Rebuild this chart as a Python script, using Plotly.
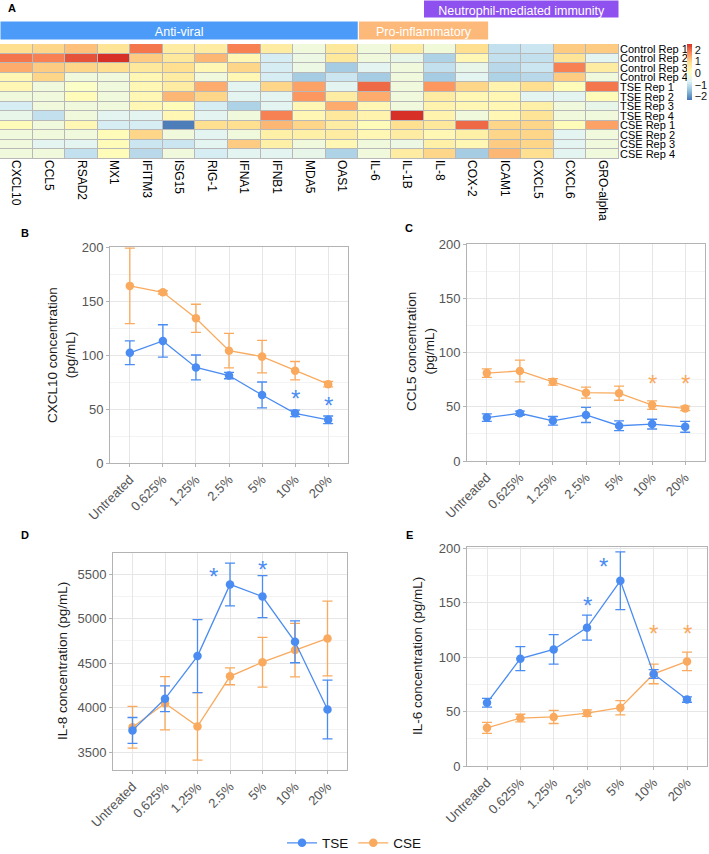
import plotly.graph_objects as go

# ---------------- Heatmap data (panel A) ----------------
genes = ["CXCL10", "CCL5", "RSAD2", "MX1", "IFITM3", "ISG15", "RIG-1", "IFNA1", "IFNB1",
         "MDA5", "OAS1", "IL-6", "IL-1B", "IL-8", "COX-2", "ICAM1", "CXCL5", "CXCL6", "GRO-alpha"]
samples = ["Control Rep 1", "Control Rep 2", "Control Rep 3", "Control Rep 4",
           "TSE Rep 1", "TSE Rep 2", "TSE Rep 3", "TSE Rep 4",
           "CSE Rep 1", "CSE Rep 2", "CSE Rep 3", "CSE Rep 4"]
ctrl_rep1 = [0.9, 1.0, 1.2, 0.8, 1.9, 0.6, 0.6, 1.8, 0.6, -0.3, 0.7, -0.3, 0.6, -0.25, 0.9, -1.0, -0.9, 1.1, 1.1]
ctrl_rep2 = [1.9, 1.8, 2.2, 2.5, 1.1, 0.7, 1.3, 0.3, -0.8, -0.4, 0.7, -0.3, -0.5, -1.2, 0.3, -1.0, -1.0, 0.8, -0.6]
ctrl_rep3 = [1.4, 1.1, 1.0, 0.9, 0.7, 0.9, 0.3, 1.0, -0.8, -0.4, -1.3, -0.6, -0.3, -1.0, -0.5, -1.1, -0.9, 1.8, 0.6]
ctrl_rep4 = [0.3, 1.0, -0.3, -0.3, 0.3, 0.6, -0.3, 0.3, -0.8, -1.3, -0.9, -1.3, -0.3, -1.3, -0.6, -1.2, -1.1, 1.1, -0.3]
tse_rep1 = [0.3, -0.3, 0.0, -0.3, 0.3, 0.6, 1.4, -0.6, 1.0, 1.5, -0.6, 2.0, -0.3, 1.6, 1.0, 0.4, 0.9, 0.2, 1.9]
tse_rep2 = [-0.3, -0.3, 0.2, -0.3, 0.3, 1.3, 1.0, -0.6, -0.6, 1.6, 0.6, 1.4, -0.3, 0.6, 0.3, 0.3, -0.6, -0.6, 0.2]
tse_rep3 = [-0.8, -0.3, -0.3, -0.3, 0.3, 0.2, -0.8, -1.2, -0.6, 0.3, 1.4, 0.3, -0.3, 0.4, 0.3, 0.3, 0.5, -0.3, -0.5]
tse_rep4 = [-0.5, -1.0, -0.3, -0.6, -0.6, 0.3, -0.6, -0.3, 1.8, 0.3, 0.7, 0.4, 2.5, 0.4, -0.3, 0.3, 0.8, -0.3, -0.3]
cse_rep1 = [0.2, -0.3, 0.3, -0.8, -0.8, -2.2, 0.9, 0.9, 1.3, 1.0, 0.6, 0.2, 0.9, 0.7, 2.0, 1.0, 1.0, 0.2, 1.5]
cse_rep2 = [-0.3, -0.3, -0.3, 0.2, 1.0, -0.3, -0.6, -0.3, 0.5, 0.5, 0.6, 0.3, 0.6, 0.3, 0.5, 1.0, 1.0, -0.6, -0.3]
cse_rep3 = [-0.3, -0.6, -0.6, 0.2, -0.9, -0.9, -0.6, 1.1, 0.5, -0.3, 0.3, -0.3, -0.4, 0.5, 0.3, 1.1, 1.0, -0.6, -0.3]
cse_rep4 = [-0.3, -0.3, -1.0, 0.2, -1.1, -0.3, -0.8, -0.6, -0.6, -0.5, -1.2, -0.3, 0.6, 1.0, -1.3, 1.3, 0.9, -0.6, -0.3]
heat_rows = [ctrl_rep1, ctrl_rep2, ctrl_rep3, ctrl_rep4, tse_rep1, tse_rep2, tse_rep3, tse_rep4,
             cse_rep1, cse_rep2, cse_rep3, cse_rep4]
colorbar_ticks = [-2, -1, 0, 1, 2]

group_names = ["Anti-viral", "Pro-inflammatory", "Neutrophil-mediated immunity"]
group_first = ["CXCL10", "IL-6", "IL-8"]
group_last = ["OAS1", "COX-2", "GRO-alpha"]

# ---------------- Line panel data (B-E) ----------------
doses = ["Untreated", "0.625%", "1.25%", "2.5%", "5%", "10%", "20%"]
series_names = ["TSE", "CSE"]

cxcl10_tse = [102, 113, 88.5, 81, 63, 46, 40]
cxcl10_tse_se = [11, 15, 11.5, 3, 12, 3, 3.5]
cxcl10_cse = [164, 158, 134, 104, 98.5, 85.5, 73]
cxcl10_cse_se = [35, 1.5, 13, 16, 15, 8.5, 2.5]
cxcl10_star_x = [5, 6]
cxcl10_star_y = [64, 58]
cxcl10_star_s = ["TSE", "TSE"]

ccl5_tse = [40, 44, 37, 42.5, 32.5, 34, 31.5]
ccl5_tse_se = [3.5, 2, 4, 7, 4.5, 4.5, 5]
ccl5_cse = [81, 83, 73, 63, 62.5, 51.5, 48.5]
ccl5_cse_se = [4, 10, 3, 5, 6.5, 4, 2]
ccl5_star_x = [5, 6]
ccl5_star_y = [76, 76]
ccl5_star_s = ["CSE", "CSE"]

il8_tse = [3745, 4100, 4580, 5385, 5248, 4740, 3980]
il8_tse_se = [145, 145, 410, 240, 235, 235, 330]
il8_cse = [3780, 4050, 3790, 4353, 4511, 4647, 4778]
il8_cse_se = [235, 300, 380, 95, 280, 300, 420]
il8_star_x = [2.5, 4]
il8_star_y = [5526, 5609]
il8_star_s = ["TSE", "TSE"]

il6_tse = [58, 98.5, 107, 127, 170, 84.5, 61]
il6_tse_se = [4, 11, 13.5, 11.5, 26.5, 4, 2.5]
il6_cse = [35, 44, 45, 48.5, 53.5, 84.5, 96]
il6_cse_se = [5, 3.5, 6, 3, 6.5, 9, 8.5]
il6_star_x = [3, 3.5, 5, 6]
il6_star_y = [152, 188, 126, 126]
il6_star_s = ["TSE", "TSE", "CSE", "CSE"]

ticks_0_200 = [0, 50, 100, 150, 200]
ticks_il8 = [3500, 4000, 4500, 5000, 5500]

# ---------------- Styling ----------------
W, H = 709, 854
FONT = "Liberation Sans, Arial, Helvetica, sans-serif"
COL = {"TSE": "#4A8CF2", "CSE": "#F9AA5E"}
BAND_COLORS = ["#4C9BF8", "#FDB97A", "#8E50EF"]
HEAT_SCALE = [[0.0, "#4575B4"], [1/6, "#91BFDB"], [2/6, "#E0F3F8"], [3/6, "#FFFFBF"],
              [4/6, "#FEE090"], [5/6, "#FC8D59"], [1.0, "#D73027"]]


def px(x):
    return x / W


def py(y):
    return 1 - y / H


fig = go.Figure()

# Heatmap
fig.add_trace(go.Heatmap(
    z=heat_rows, x=genes, y=samples, xaxis="x", yaxis="y",
    colorscale=HEAT_SCALE, zmin=-2.3, zmax=2.5, xgap=1, ygap=1,
    showscale=True, hoverinfo="skip",
    colorbar=dict(x=px(687), xanchor="left", y=py(72), yanchor="middle",
                  len=56, lenmode="pixels", thickness=5, thicknessmode="pixels",
                  tickvals=colorbar_ticks, ticks="", outlinewidth=0, xpad=0, ypad=0,
                  tickfont=dict(family=FONT, size=11, color="#111"))))

shapes = [dict(type="rect", xref="x domain", yref="y domain", x0=0, x1=1, y0=0, y1=1,
               fillcolor="#b8b8b8", line=dict(width=0), layer="below")]
band_y = [(21, 40), (21, 40), (0, 18)]
for name, first, last, colr, (ya, yb) in zip(group_names, group_first, group_last, BAND_COLORS, band_y):
    i0, i1 = genes.index(first), genes.index(last)
    shapes.append(dict(type="rect", xref="x", yref="paper", x0=i0 - 0.5, x1=i1 + 0.5,
                       y0=py(yb), y1=py(ya), fillcolor=colr, line=dict(color="white", width=1),
                       label=dict(text=name, font=dict(family=FONT, size=12.5, color="white"))))

# Line panels
panels = [
    dict(n=2, tse=cxcl10_tse, tse_se=cxcl10_tse_se, cse=cxcl10_cse, cse_se=cxcl10_cse_se,
         sx=cxcl10_star_x, sy=cxcl10_star_y, ss=cxcl10_star_s),
    dict(n=3, tse=ccl5_tse, tse_se=ccl5_tse_se, cse=ccl5_cse, cse_se=ccl5_cse_se,
         sx=ccl5_star_x, sy=ccl5_star_y, ss=ccl5_star_s),
    dict(n=4, tse=il8_tse, tse_se=il8_tse_se, cse=il8_cse, cse_se=il8_cse_se,
         sx=il8_star_x, sy=il8_star_y, ss=il8_star_s),
    dict(n=5, tse=il6_tse, tse_se=il6_tse_se, cse=il6_cse, cse_se=il6_cse_se,
         sx=il6_star_x, sy=il6_star_y, ss=il6_star_s),
]
xpos = list(range(len(doses)))
annotations = []
for p in panels:
    n = p["n"]
    for name, vals, se in [("CSE", p["cse"], p["cse_se"]), ("TSE", p["tse"], p["tse_se"])]:
        fig.add_trace(go.Scatter(
            x=xpos, y=vals, xaxis=f"x{n}", yaxis=f"y{n}", name=name,
            mode="lines+markers", showlegend=(n == 2), legendrank=(1 if name == "TSE" else 2),
            line=dict(color=COL[name], width=1.3),
            marker=dict(color=COL[name], size=8.5),
            error_y=dict(type="data", array=se, color=COL[name], thickness=1.3, width=5),
            hoverinfo="skip"))
    for sx, sy, ss in zip(p["sx"], p["sy"], p["ss"]):
        annotations.append(dict(x=sx, y=sy, xref=f"x{n}", yref=f"y{n}", text="*",
                                showarrow=False, yshift=-5,
                                font=dict(family=FONT, size=24, color=COL[ss])))

layout_axes = {}
# heatmap axes
layout_axes["xaxis"] = dict(domain=[0, px(619)], anchor="y", range=[-0.5, len(genes) - 0.5],
                            tickmode="array", tickvals=genes, ticktext=genes,
                            tickangle=90, ticks="", showgrid=False, zeroline=False, showline=False,
                            automargin=False,
                            tickfont=dict(family=FONT, size=12, color="#000"))
layout_axes["yaxis"] = dict(domain=[py(159), py(44)], anchor="x", autorange="reversed",
                            tickmode="array", tickvals=samples, ticktext=samples,
                            side="right", ticks="", showgrid=False, zeroline=False, showline=False,
                            automargin=False,
                            tickfont=dict(family=FONT, size=11, color="#000"))

panel_geom = {
    2: dict(x=(110, 348), y=(247, 463), r=[0, 200], t=ticks_0_200, m=25),
    3: dict(x=(467, 705), y=(244, 461), r=[0, 200], t=ticks_0_200, m=25),
    4: dict(x=(113, 347), y=(553, 770), r=[3300, 5738], t=ticks_il8, m=250),
    5: dict(x=(467, 707), y=(547, 766), r=[0, 201], t=ticks_0_200, m=25),
}
AX_LINE = "#b3b3b3"
for n, g in panel_geom.items():
    layout_axes[f"xaxis{n}"] = dict(
        domain=[px(g["x"][0]), px(g["x"][1])], anchor=f"y{n}", range=[-0.6, len(doses) - 0.4],
        tickmode="array", tickvals=xpos, ticktext=doses, tickangle=-45,
        showgrid=True, gridcolor="#e6e6e6", gridwidth=1, zeroline=False,
        showline=True, mirror=True, linecolor=AX_LINE, linewidth=1,
        ticks="outside", ticklen=3, tickcolor=AX_LINE, automargin=False,
        tickfont=dict(family=FONT, size=13, color="#555"))
    layout_axes[f"yaxis{n}"] = dict(
        domain=[py(g["y"][1]), py(g["y"][0])], anchor=f"x{n}", range=g["r"],
        tickmode="array", tickvals=g["t"],
        showgrid=True, gridcolor="#e6e6e6", gridwidth=1, zeroline=False,
        minor=dict(dtick=g["m"], tick0=0, showgrid=True, gridcolor="#f3f3f3", ticks=""),
        showline=True, mirror=True, linecolor=AX_LINE, linewidth=1,
        ticks="outside", ticklen=3, tickcolor=AX_LINE, automargin=False,
        tickfont=dict(family=FONT, size=13, color="#555"))

# panel letters
for letter, (lx, ly) in zip(["A", "B", "C", "D", "E"], [(12, 8), (25, 233), (409, 228), (25, 535), (409, 535)]):
    annotations.append(dict(x=px(lx), y=py(ly), xref="paper", yref="paper", text=f"<b>{letter}</b>",
                            showarrow=False, xanchor="center", yanchor="middle",
                            font=dict(family=FONT, size=11, color="#000")))

# y-axis titles
ytitles = ["CXCL10 concentration<br>(pg/mL)", "CCL5 concentration<br>(pg/mL)",
           "IL-8 concentration (pg/mL)", "IL-6 concentration (pg/mL)"]
for t, (tx, ty) in zip(ytitles, [(61, 355), (420, 352), (62, 661), (417, 656)]):
    annotations.append(dict(x=px(tx), y=py(ty), xref="paper", yref="paper", text=t, textangle=-90,
                            showarrow=False, xanchor="center", yanchor="middle",
                            font=dict(family=FONT, size=13.5, color="#1a1a1a")))

fig.update_layout(
    width=W, height=H, margin=dict(l=0, r=0, t=0, b=0, pad=0, autoexpand=False),
    paper_bgcolor="white", plot_bgcolor="white",
    font=dict(family=FONT),
    shapes=shapes, annotations=annotations,
    legend=dict(orientation="h", x=0.5, xanchor="center", y=py(843), yanchor="middle",
                font=dict(family=FONT, size=13.5, color="#111"), bgcolor="rgba(0,0,0,0)",
                itemwidth=30, tracegroupgap=0),
    **layout_axes)

fig.write_html("out.html", config={"displayModeBar": False},
               post_script="document.body.style.margin='0';document.body.style.overflow='hidden';")
